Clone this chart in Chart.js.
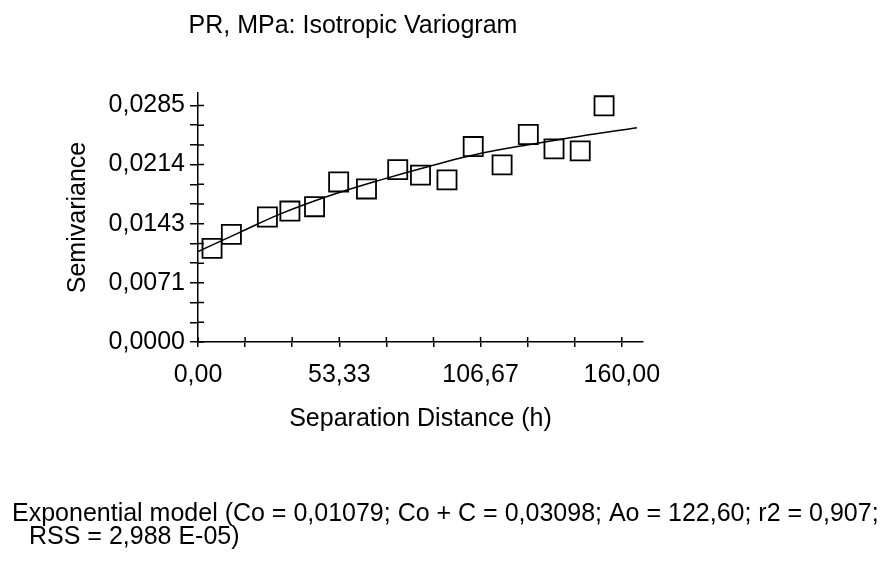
<!DOCTYPE html>
<html>
<head>
  <meta charset="utf-8">
  <title>PR, MPa: Isotropic Variogram</title>
  <script src="https://cdn.jsdelivr.net/npm/chart.js@4.4.0/dist/chart.umd.min.js"></script>
  <style>
    html, body {
      margin: 0;
      padding: 0;
      background: #fff;
    }
    #variogram {
      display: block;
    }
  </style>
</head>
<body>
  <canvas id="variogram" width="889" height="565"></canvas>
  <script>
    const lagDistance = [5.3, 12.6, 26.2, 34.7, 44.0, 53.1, 63.6, 75.4, 84.0, 94.0, 103.9, 114.8, 124.7, 134.4, 144.3, 153.3];
    const semivariance = [0.01128, 0.01297, 0.01506, 0.01578, 0.01630, 0.01928, 0.01844, 0.02077, 0.02010, 0.01953, 0.02355, 0.02134, 0.02500, 0.02327, 0.02303, 0.02846];

    // fitted model curve, read at a few points along the drawn line
    const modelDistance = [0, 16.4, 30.9, 48.5, 68.7, 88.8, 106.5, 125.4, 144.3, 165.7];
    const modelSemivariance = [0.0109, 0.0133, 0.0154, 0.0175, 0.0195, 0.0213, 0.0227, 0.0238, 0.0248, 0.0258];

    const xTickValues = [0, 17.78, 35.56, 53.33, 71.11, 88.89, 106.67, 124.44, 142.22, 160];
    const xTickLabels = ['0,00', '', '', '53,33', '', '', '106,67', '', '', '160,00'];
    const yTickValues = [0, 0.002375, 0.00475, 0.007125, 0.0095, 0.011875, 0.01425, 0.016625, 0.019, 0.021375, 0.02375, 0.026125, 0.0285];
    const yTickLabels = ['0,0000', '', '', '0,0071', '', '', '0,0143', '', '', '0,0214', '', '', '0,0285'];

    const chartTitle = 'PR, MPa: Isotropic Variogram';
    const modelText = [
      'Exponential model (Co = 0,01079; Co + C = 0,03098; Ao = 122,60; r2 = 0,907;',
      'RSS = 2,988 E-05)'
    ];

    const FONT = "'Liberation Sans', Arial, sans-serif";
    Chart.defaults.font.family = FONT;
    Chart.defaults.font.size = 25;
    Chart.defaults.color = '#000';

    // ticks in the original cross the axis, so draw the inner half too + texts
    const crossTicks = {
      id: 'crossTicks',
      afterDraw(chart) {
        const {ctx, chartArea, scales} = chart;
        const x = scales.x, y = scales.y;
        ctx.save();
        ctx.strokeStyle = '#000';
        ctx.lineWidth = 1.5;
        ctx.beginPath();
        x.ticks.forEach(t => {
          const px = x.getPixelForValue(t.value);
          ctx.moveTo(px, chartArea.bottom);
          ctx.lineTo(px, chartArea.bottom - 5);
        });
        y.ticks.forEach(t => {
          const py = y.getPixelForValue(t.value);
          ctx.moveTo(chartArea.left, py);
          ctx.lineTo(chartArea.left + 6, py);
        });
        ctx.stroke();

        ctx.fillStyle = '#000';
        ctx.font = '25px ' + FONT;
        ctx.textBaseline = 'alphabetic';
        ctx.textAlign = 'center';
        ctx.fillText(chartTitle, 353, 33);
        ctx.textAlign = 'left';
        ctx.fillText(modelText[0], 12, 521);
        ctx.fillText(modelText[1], 29, 544);
        ctx.restore();
      }
    };

    const ctx = document.getElementById('variogram').getContext('2d');
    new Chart(ctx, {
      type: 'scatter',
      data: {
        datasets: [
          {
            label: 'model',
            data: modelDistance.map((h, i) => ({x: h, y: modelSemivariance[i]})),
            showLine: true,
            borderColor: '#000',
            borderWidth: 1.5,
            pointRadius: 0,
            cubicInterpolationMode: 'monotone',
            fill: false
          },
          {
            label: 'semivariance',
            data: lagDistance.map((h, i) => ({x: h, y: semivariance[i]})),
            pointStyle: 'rect',
            pointRadius: 13.5,
            pointBorderWidth: 1.8,
            borderColor: '#000',
            backgroundColor: 'rgba(0,0,0,0)',
            clip: false
          }
        ]
      },
      options: {
        responsive: false,
        animation: false,
        events: [],
        layout: {
          padding: {top: 93, right: 246, bottom: 130, left: 0}
        },
        plugins: {
          legend: {display: false},
          tooltip: {enabled: false}
        },
        scales: {
          x: {
            type: 'linear',
            min: 0,
            max: 168,
            afterBuildTicks: scale => { scale.ticks = xTickValues.map(v => ({value: v})); },
            afterFit: scale => { scale.height = 93; },
            ticks: {
              autoSkip: false,
              maxRotation: 0,
              padding: 13,
              callback: (v, i) => xTickLabels[i]
            },
            grid: {drawOnChartArea: false, drawTicks: true, tickLength: 5, color: '#000', lineWidth: 1.5},
            border: {display: true, color: '#000', width: 1.5},
            title: {display: true, text: 'Separation Distance (h)', padding: {top: 0, bottom: 1}}
          },
          y: {
            type: 'linear',
            min: 0,
            max: 0.0300,
            afterBuildTicks: scale => { scale.ticks = yTickValues.map(v => ({value: v})); },
            afterFit: scale => { scale.width = 198; },
            ticks: {
              autoSkip: false,
              padding: 5,
              callback: (v, i) => yTickLabels[i]
            },
            grid: {drawOnChartArea: false, drawTicks: true, tickLength: 8, color: '#000', lineWidth: 1.5},
            border: {display: true, color: '#000', width: 1.5},
            title: {display: true, text: 'Semivariance', padding: {top: 63, bottom: 0}}
          }
        }
      },
      plugins: [crossTicks]
    });
  </script>
</body>
</html>
